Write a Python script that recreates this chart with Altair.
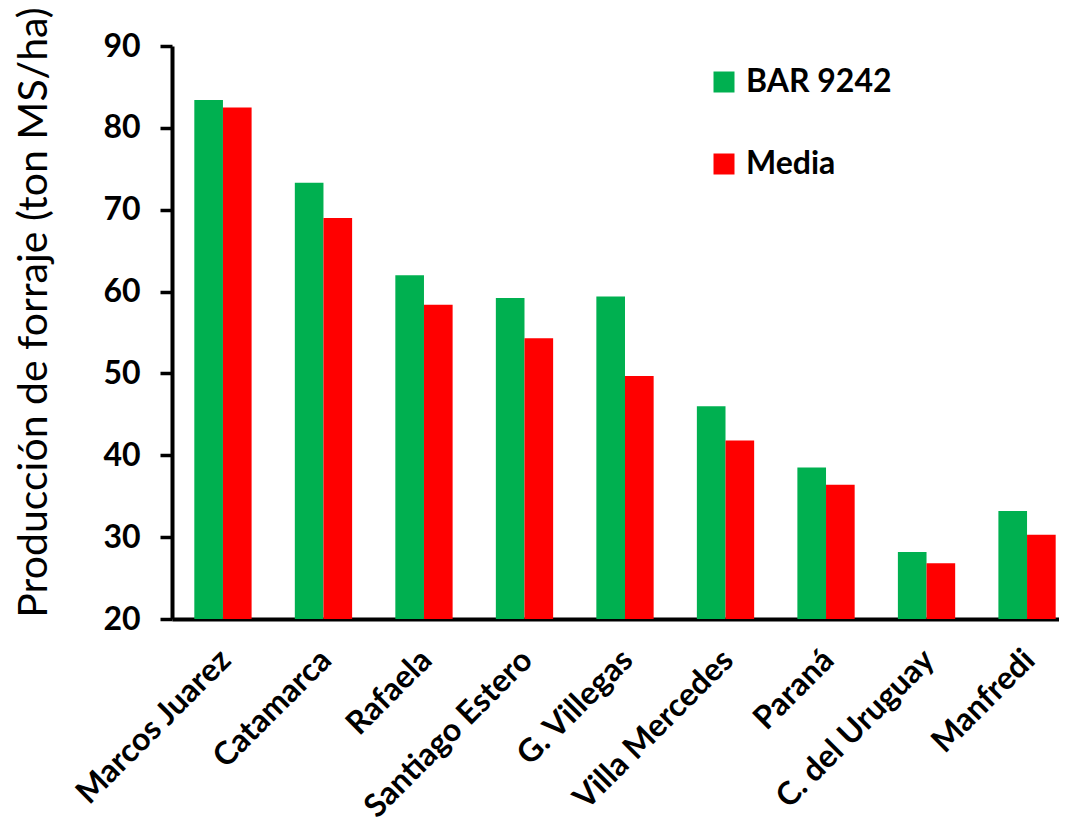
import altair as alt
import pandas as pd

categories = ["Marcos Juarez", "Catamarca", "Rafaela", "Santiago Estero", "G. Villegas",
              "Villa Mercedes", "Paraná", "C. del Uruguay", "Manfredi"]
bar9242 = [83.4, 73.3, 62.0, 59.2, 59.4, 46.0, 38.5, 28.2, 33.2]
media = [82.5, 69.0, 58.4, 54.3, 49.7, 41.8, 36.4, 26.8, 30.3]
series = ["BAR 9242", "Media"]
colors = ["#00B050", "#FF0000"]
y_ticks = [20, 30, 40, 50, 60, 70, 80, 90]

rows = []
for c, a, b in zip(categories, bar9242, media):
    rows.append({"sitio": c, "serie": series[0], "valor": a})
    rows.append({"sitio": c, "serie": series[1], "valor": b})
df = pd.DataFrame(rows)

chart = alt.Chart(df).mark_bar().encode(
    x=alt.X("sitio:N", sort=categories,
            scale=alt.Scale(paddingInner=0.43, paddingOuter=0.222, range=[0, 906]),
            axis=alt.Axis(title=None, labelAngle=-45, labelAlign="right",
                          labelBaseline="top", ticks=False, labelPadding=25,
                          labelOffset=-8,
                          labelFontSize=32, labelFont="Lato", labelFontWeight="bold",
                          labelColor="black", domainColor="black", domainWidth=4,
                          labelOverlap=False, labelLimit=500)),
    xOffset=alt.XOffset("serie:N", sort=series),
    y=alt.Y("valor:Q", scale=alt.Scale(domain=[20, 90], nice=False, zero=False),
            axis=alt.Axis(title="Producción de forraje (ton MS/ha)", values=y_ticks,
                          grid=False, tickSize=12, tickWidth=3.5, tickColor="black",
                          domainColor="black", domainWidth=4, labelPadding=20,
                          labelFontSize=32, labelFont="Lato", labelFontWeight="bold",
                          labelColor="black", titleFont="Lato", titleFontSize=41,
                          titleFontWeight="normal", titleColor="black",
                          titleBaseline="alphabetic", titleX=-126, titleY=266,
                          titleAngle=270)),
    y2=alt.Y2(datum=20),
    color=alt.Color("serie:N", sort=series,
                    scale=alt.Scale(domain=series, range=colors),
                    legend=alt.Legend(title=None, orient="none", legendX=536, legendY=20,
                                      symbolType="square", symbolSize=441,
                                      symbolStrokeWidth=0, labelFont="Lato",
                                      labelFontSize=32, labelFontWeight="bold",
                                      labelColor="black", labelOffset=6,
                                      rowPadding=50)),
).properties(
    width=887,
    height=573,
    autosize=alt.AutoSizeParams(type="none"),
    padding={"left": 164, "top": 38, "right": 0, "bottom": 209},
).configure_view(stroke=None)

chart.save("out.html", embed_options={"renderer": "svg", "actions": False})
